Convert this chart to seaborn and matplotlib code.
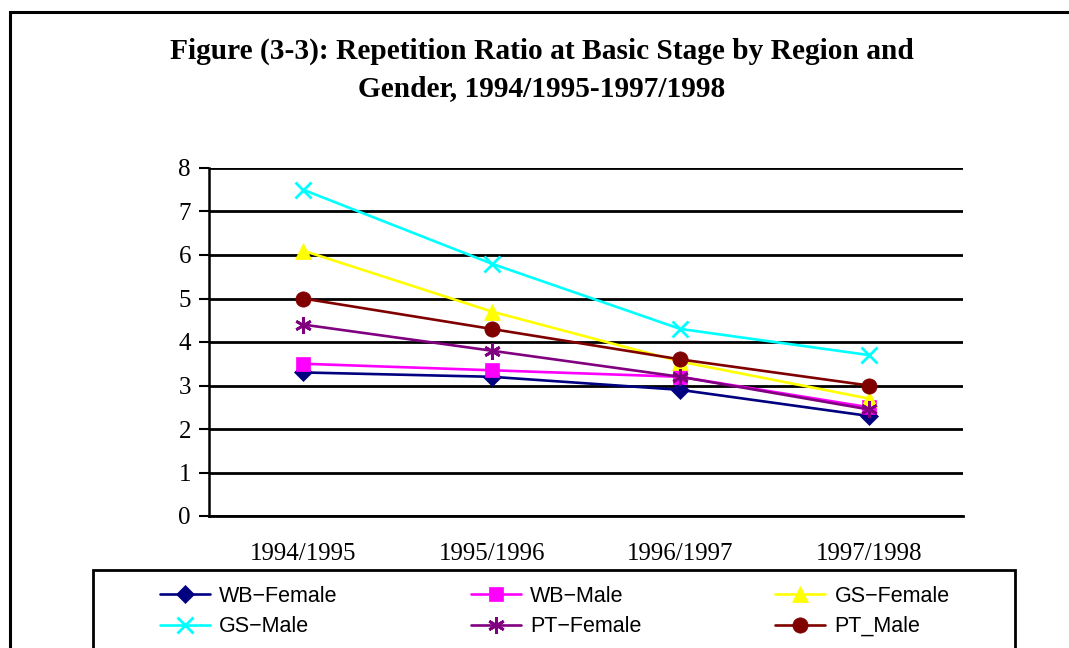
import matplotlib
matplotlib.use("Agg")
import matplotlib.pyplot as plt
import seaborn as sns
import pandas as pd
from matplotlib.patches import Rectangle

YEARS = ["1994/1995", "1995/1996", "1996/1997", "1997/1998"]
WB_FEMALE = [3.3, 3.2, 2.9, 2.3]
WB_MALE = [3.5, 3.35, 3.2, 2.5]
GS_FEMALE = [6.1, 4.7, 3.55, 2.7]
GS_MALE = [7.5, 5.8, 4.3, 3.7]
PT_FEMALE = [4.4, 3.8, 3.2, 2.45]
PT_MALE = [5.0, 4.3, 3.6, 3.0]

SERIES = [
    ("WB\u2212Female", WB_FEMALE, "#000080", "D", 9),
    ("WB\u2212Male", WB_MALE, "#FF00FF", "s", 10),
    ("GS\u2212Female", GS_FEMALE, "#FFFF00", "^", 11),
    ("GS\u2212Male", GS_MALE, "#00FFFF", "x", 11),
    ("PT\u2212Female", PT_FEMALE, "#800080", (6, 2, 0), 12),
    ("PT_Male", PT_MALE, "#800000", "o", 11),
]

sns.set_style("white")
plt.rcParams["font.family"] = ["Liberation Serif", "DejaVu Serif"]
plt.rcParams["text.color"] = "black"
plt.rcParams["xtick.color"] = "black"
plt.rcParams["ytick.color"] = "black"
plt.rcParams["axes.labelcolor"] = "black"

fig = plt.figure(figsize=(10.69, 6.48), dpi=100)
ax = fig.add_axes([209 / 1069, 1 - 516 / 648, 754 / 1069, 348 / 648])

for name, vals, color, marker, ms in SERIES:
    df = pd.DataFrame({"year": YEARS, "value": vals})
    unfilled = marker in ("x", (6, 2, 0))
    sns.lineplot(data=df, x="year", y="value", ax=ax, color=color, label=name,
                 marker=marker, markersize=ms, linewidth=1.9,
                 markeredgecolor=color, markerfacecolor=color,
                 markeredgewidth=2.0 if unfilled else 0.5, sort=False)

ax.set_xlim(-0.5, 3.5)
ax.set_ylim(0, 8)
ax.set_yticks(range(0, 9))
ax.set_xlabel("")
ax.set_ylabel("")
ax.grid(axis="y", color="black", linewidth=2.0)
ax.grid(axis="x", visible=False)
ax.set_axisbelow(True)
for side in ["top", "right"]:
    ax.spines[side].set_visible(False)
ax.spines["left"].set_linewidth(1.8)
ax.spines["bottom"].set_linewidth(2.0)
ax.spines["left"].set_color("black")
ax.spines["bottom"].set_color("black")
ax.tick_params(axis="y", which="both", left=True, length=7, width=1.5,
               direction="out", labelsize=18, pad=6, colors="black")
ax.tick_params(axis="x", bottom=False, labelsize=18, pad=16, colors="black")

handles, labels = ax.get_legend_handles_labels()
ax.get_legend().remove()
order = [0, 3, 1, 4, 2, 5]
leg = fig.legend([handles[i] for i in order], [labels[i] for i in order],
                 loc="upper left", bbox_to_anchor=(160 / 1069, 1 - 586 / 648),
                 ncol=3, frameon=False, borderpad=0, borderaxespad=0,
                 handlelength=2.3, handletextpad=0.45, columnspacing=6.2,
                 labelspacing=0.42, labelcolor="black",
                 prop={"family": "Liberation Sans", "size": 15.5})

fig.patches.append(Rectangle((10 / 1069, -0.05), 1.1, 1 - 12 / 648 + 0.05,
                             transform=fig.transFigure, fill=False,
                             edgecolor="black", linewidth=2.2))
fig.patches.append(Rectangle((93 / 1069, -0.05), (1015 - 93) / 1069,
                             1 - 570 / 648 + 0.05,
                             transform=fig.transFigure, fill=False,
                             edgecolor="black", linewidth=2.0))

fig.text(542 / 1069, 1 - 51 / 648,
         "Figure (3-3): Repetition Ratio at Basic Stage by Region and",
         ha="center", va="center", fontsize=21.2, fontweight="bold",
         color="black")
fig.text(542 / 1069, 1 - 89 / 648, "Gender, 1994/1995-1997/1998",
         ha="center", va="center", fontsize=21.2, fontweight="bold",
         color="black")

fig.savefig("out.png", dpi=100)
plt.close(fig)
